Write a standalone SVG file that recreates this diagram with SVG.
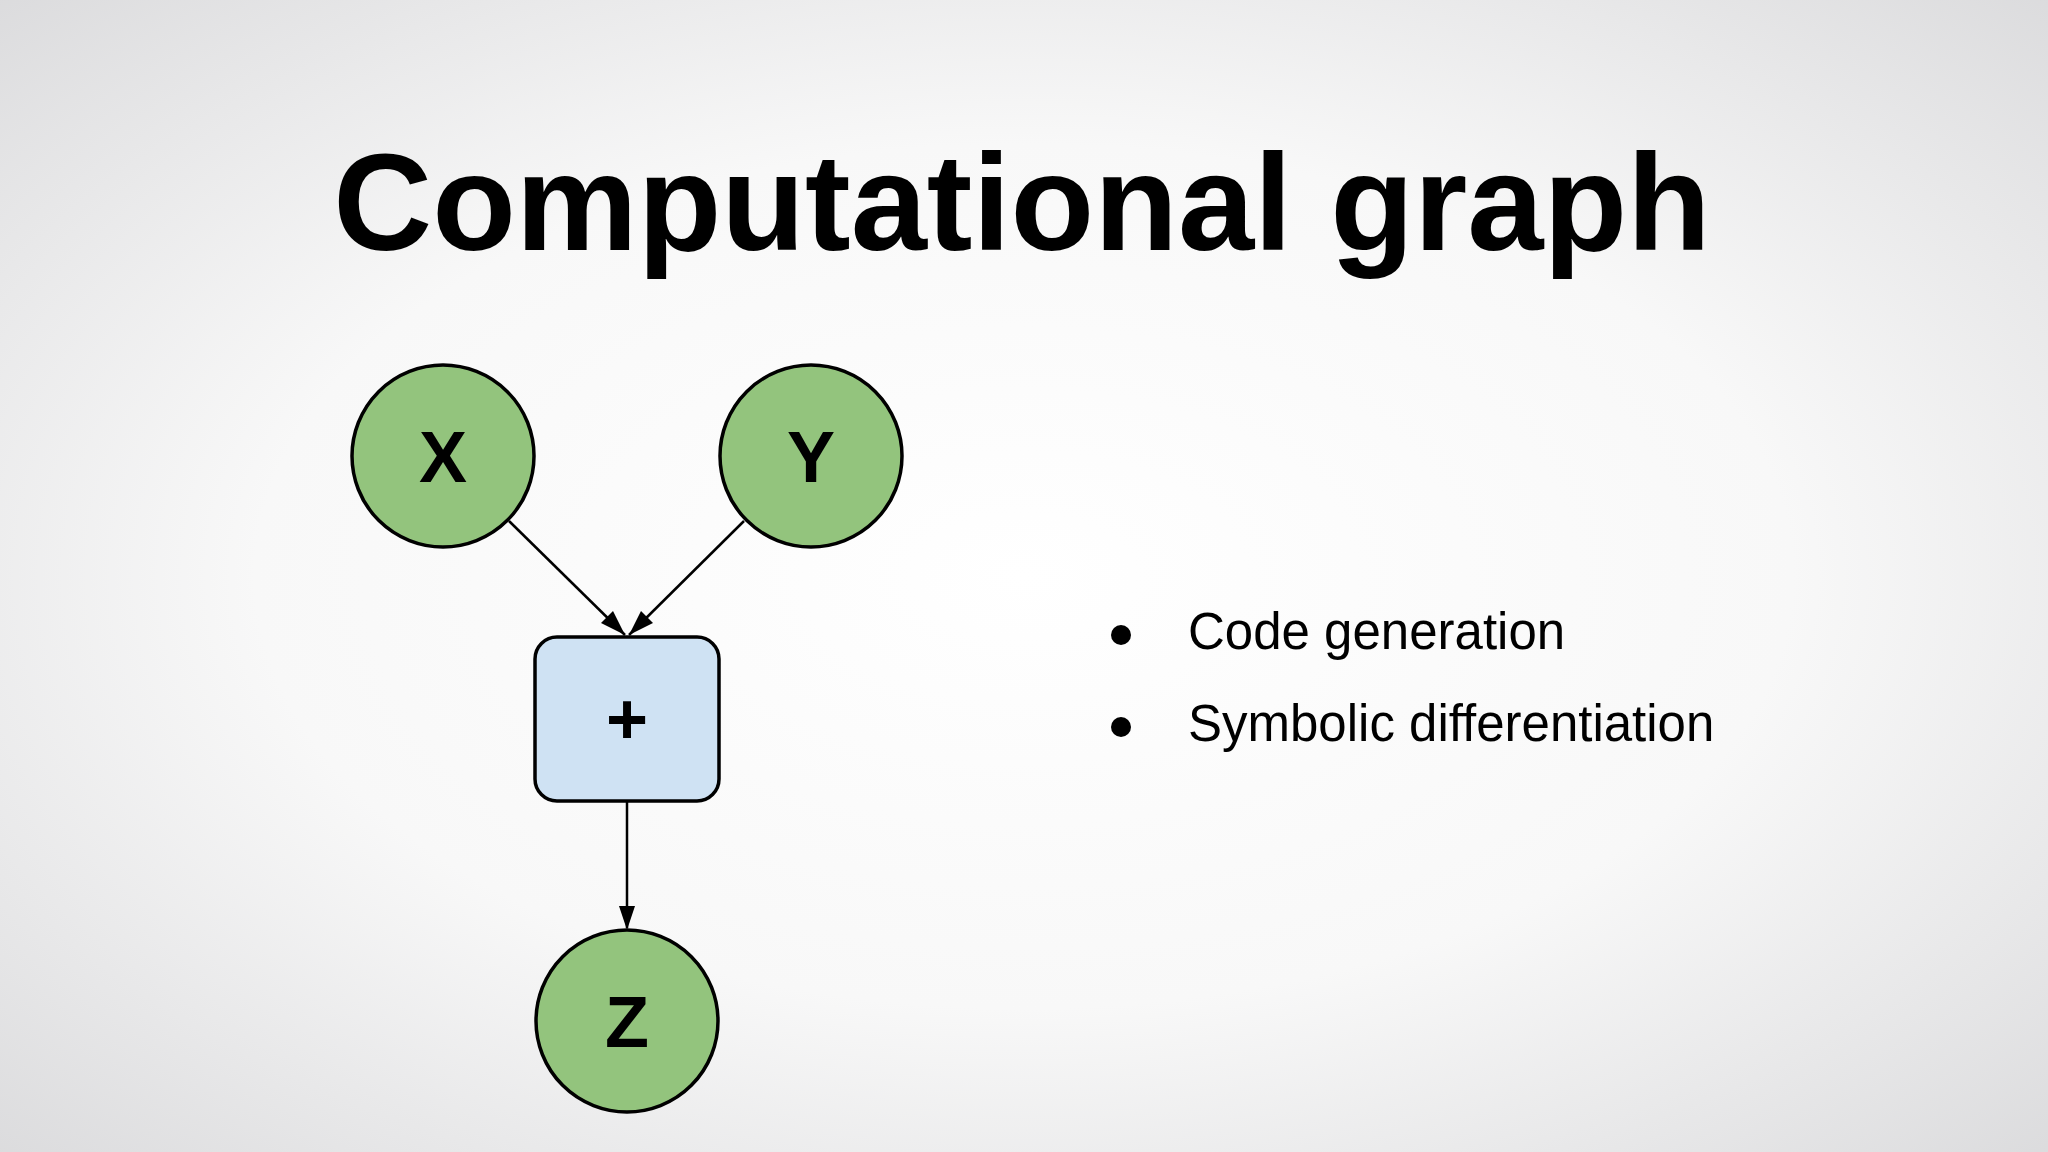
<svg xmlns="http://www.w3.org/2000/svg" width="2048" height="1152" viewBox="0 0 2048 1152">
<defs>
<radialGradient id="bg" cx="0.5" cy="0.5" r="0.75">
<stop offset="0" stop-color="#ffffff"/>
<stop offset="0.5" stop-color="#f8f8f8"/>
<stop offset="1" stop-color="#d8d8da"/>
</radialGradient>
<style>
.c{fill:#93c47d;stroke:#000;stroke-width:3.5}
.b{fill:#cfe2f3;stroke:#000;stroke-width:3.5}
.l{font-family:"Liberation Sans",Arial,sans-serif;font-weight:bold;font-size:72px;text-anchor:middle}
.e{stroke:#000;stroke-width:2.5;fill:none}
.t{font-family:"Liberation Sans",Arial,sans-serif;font-size:51px}
</style>
</defs>
<rect width="2048" height="1152" fill="url(#bg)"/>
<text x="1022" y="250" text-anchor="middle" font-family="Liberation Sans, Arial, sans-serif" font-weight="bold" font-size="137">Computational graph</text>
<g id="connectors">
<line class="e" x1="509" y1="521" x2="625" y2="635"/>
<path d="M625,635 L601,623 L613,611 Z"/>
<line class="e" x1="744" y1="521" x2="629" y2="635"/>
<path d="M629,635 L641,611 L653,623 Z"/>
<line class="e" x1="627" y1="801" x2="627" y2="928"/>
<path d="M627,930 L619,906 L635,906 Z"/>
</g>
<g id="X"><circle class="c" cx="443" cy="456" r="91"/><text class="l" x="443" y="482">X</text></g>
<g id="Y"><circle class="c" cx="811" cy="456" r="91"/><text class="l" x="811" y="482">Y</text></g>
<g id="plus"><rect class="b" x="535" y="637" width="184" height="164" rx="22"/><text class="l" x="627" y="744">+</text></g>
<g id="Z"><circle class="c" cx="627" cy="1021" r="91"/><text class="l" x="627" y="1047">Z</text></g>
<g id="bullets">
<circle cx="1121" cy="635" r="10"/>
<text class="t" x="1188" y="649">Code generation</text>
<circle cx="1121" cy="727" r="10"/>
<text class="t" x="1188" y="741">Symbolic differentiation</text>
</g>
</svg>
